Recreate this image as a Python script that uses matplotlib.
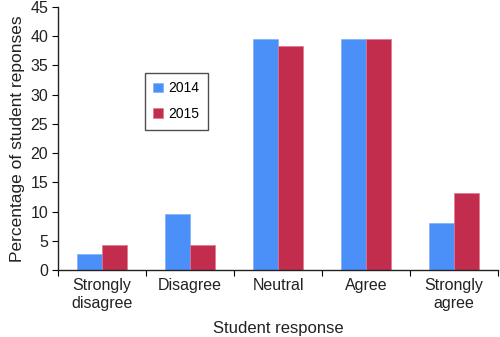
import numpy as np
import matplotlib
matplotlib.use("Agg")
import matplotlib.pyplot as plt

categories = ["Strongly\ndisagree", "Disagree", "Neutral", "Agree", "Strongly\nagree"]
values_2014 = [2.7, 9.5, 39.6, 39.6, 8.1]
values_2015 = [4.3, 4.3, 38.4, 39.5, 13.1]

plt.rcParams["font.family"] = ["Liberation Sans", "DejaVu Sans"]

fig = plt.figure(figsize=(5.0, 3.37), dpi=100)
ax = fig.add_axes([0.116, 0.199, 0.88, 0.78])

x = np.arange(len(categories))
w = 0.285
ax.bar(x - w / 2, values_2014, w, color="#4a90f8", edgecolor="#7fb0fa", linewidth=0.5, label="2014")
ax.bar(x + w / 2, values_2015, w, color="#c32d4d", edgecolor="#e07890", linewidth=0.5, label="2015")

ax.set_xlim(-0.5, len(categories) - 0.5)
ax.set_ylim(0, 45)
ax.set_yticks(np.arange(0, 46, 5))

# major ticks at category boundaries, labels centred on minor ticks
ax.set_xticks(np.arange(-0.5, len(categories), 1.0))
ax.set_xticklabels([])
ax.set_xticks(x, minor=True)
ax.set_xticklabels(categories, minor=True, fontsize=11.5, color="#222222", linespacing=1.25)
ax.tick_params(axis="x", which="minor", length=0, pad=6)
ax.tick_params(axis="x", which="major", length=4, direction="out")
ax.tick_params(axis="y", labelsize=11.5, length=4, direction="out", labelcolor="#222222", pad=3)

for s in ["top", "right"]:
    ax.spines[s].set_visible(False)
for s in ["left", "bottom"]:
    ax.spines[s].set_color("#222222")
    ax.spines[s].set_linewidth(1.0)

ax.set_xlabel("Student response", fontsize=12, color="#222222", labelpad=7)
ax.set_ylabel("Percentage of student reponses", fontsize=12.5, color="#222222", labelpad=4)

leg = ax.legend(loc="upper left", bbox_to_anchor=(0.197, 0.749), borderaxespad=0,
                fontsize=10, frameon=True, fancybox=False, handlelength=0.7,
                handleheight=0.7, labelspacing=0.85, borderpad=0.6, handletextpad=0.4)
leg.get_frame().set_edgecolor("#222222")
leg.get_frame().set_linewidth(1.0)

fig.savefig("out.png", dpi=100)
